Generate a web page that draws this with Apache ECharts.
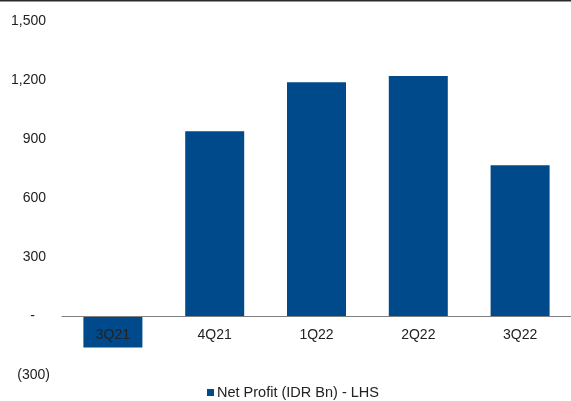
<!DOCTYPE html>
<html>
<head>
<meta charset="utf-8">
<script src="https://cdn.jsdelivr.net/npm/echarts@6/dist/echarts.min.js"></script>
<style>
  html, body { margin: 0; padding: 0; background: #fff; }
  #chart { width: 571px; height: 401px; }
</style>
</head>
<body>
<div id="chart"></div>
<script>
// Quarterly net profit, IDR billions
const quarters = ['3Q21', '4Q21', '1Q22', '2Q22', '3Q22'];
const netProfit = [-160, 940, 1188, 1220, 766];
const seriesName = 'Net Profit (IDR Bn) - LHS';

const barColor = '#004A8C';
const textColor = '#222222';
const fontFamily = '"Liberation Sans", Arial, sans-serif';

const yMin = -300, yMax = 1500, yStep = 300;
const gridTop = 21, gridBottom = 26, chartH = 401;

// Accounting-style number format: (x) for negatives, "-" for zero
function fmtValue(v) {
  if (v === 0) return '{z|-}';
  const s = Math.abs(v).toLocaleString('en-US');
  return v < 0 ? '{n|(' + s + ')}' : '{p|' + s + '}';
}

// Category axis sits on the zero line, labels just below it
const plotH = chartH - gridTop - gridBottom;
const zeroOffset = -plotH * (0 - yMin) / (yMax - yMin);

const chart = echarts.init(document.getElementById('chart'), null, { renderer: 'canvas' });
chart.setOption({
  animation: false,
  backgroundColor: '#ffffff',
  textStyle: { fontFamily: fontFamily },
  graphic: [{
    type: 'rect',
    shape: { x: 0, y: 0, width: 571, height: 1.5 },
    style: { fill: '#2a2a2a' }
  }],
  grid: { left: 62, top: gridTop, width: 513, bottom: gridBottom, containLabel: false },
  legend: {
    data: [{ name: seriesName, icon: 'rect' }],
    left: 202,
    top: 380,
    itemWidth: 7,
    itemHeight: 7,
    itemGap: 4,
    textStyle: { color: textColor, fontSize: 14.5, fontFamily: fontFamily, padding: [0, 0, 0, -2] }
  },
  xAxis: {
    type: 'category',
    data: quarters,
    offset: zeroOffset,
    z: 5,
    axisLine: { onZero: false, lineStyle: { color: '#7f7f7f', width: 1 } },
    axisTick: { show: false },
    axisLabel: { color: textColor, fontSize: 14, margin: 12, fontFamily: fontFamily },
    splitLine: { show: false }
  },
  yAxis: {
    type: 'value',
    min: yMin,
    max: yMax,
    interval: yStep,
    axisLine: { show: false },
    axisTick: { show: false },
    splitLine: { show: false },
    axisLabel: {
      margin: 12,
      formatter: fmtValue,
      rich: {
        p: { color: textColor, fontSize: 14, fontFamily: fontFamily, padding: [0, 4, 0, 0] },
        n: { color: textColor, fontSize: 14, fontFamily: fontFamily },
        z: { color: textColor, fontSize: 14, fontFamily: fontFamily, padding: [0, 15, 0, 0] }
      }
    }
  },
  series: [{
    name: seriesName,
    type: 'bar',
    data: netProfit,
    barWidth: 59,
    itemStyle: { color: barColor },
    z: 1
  }]
});
</script>
</body>
</html>
